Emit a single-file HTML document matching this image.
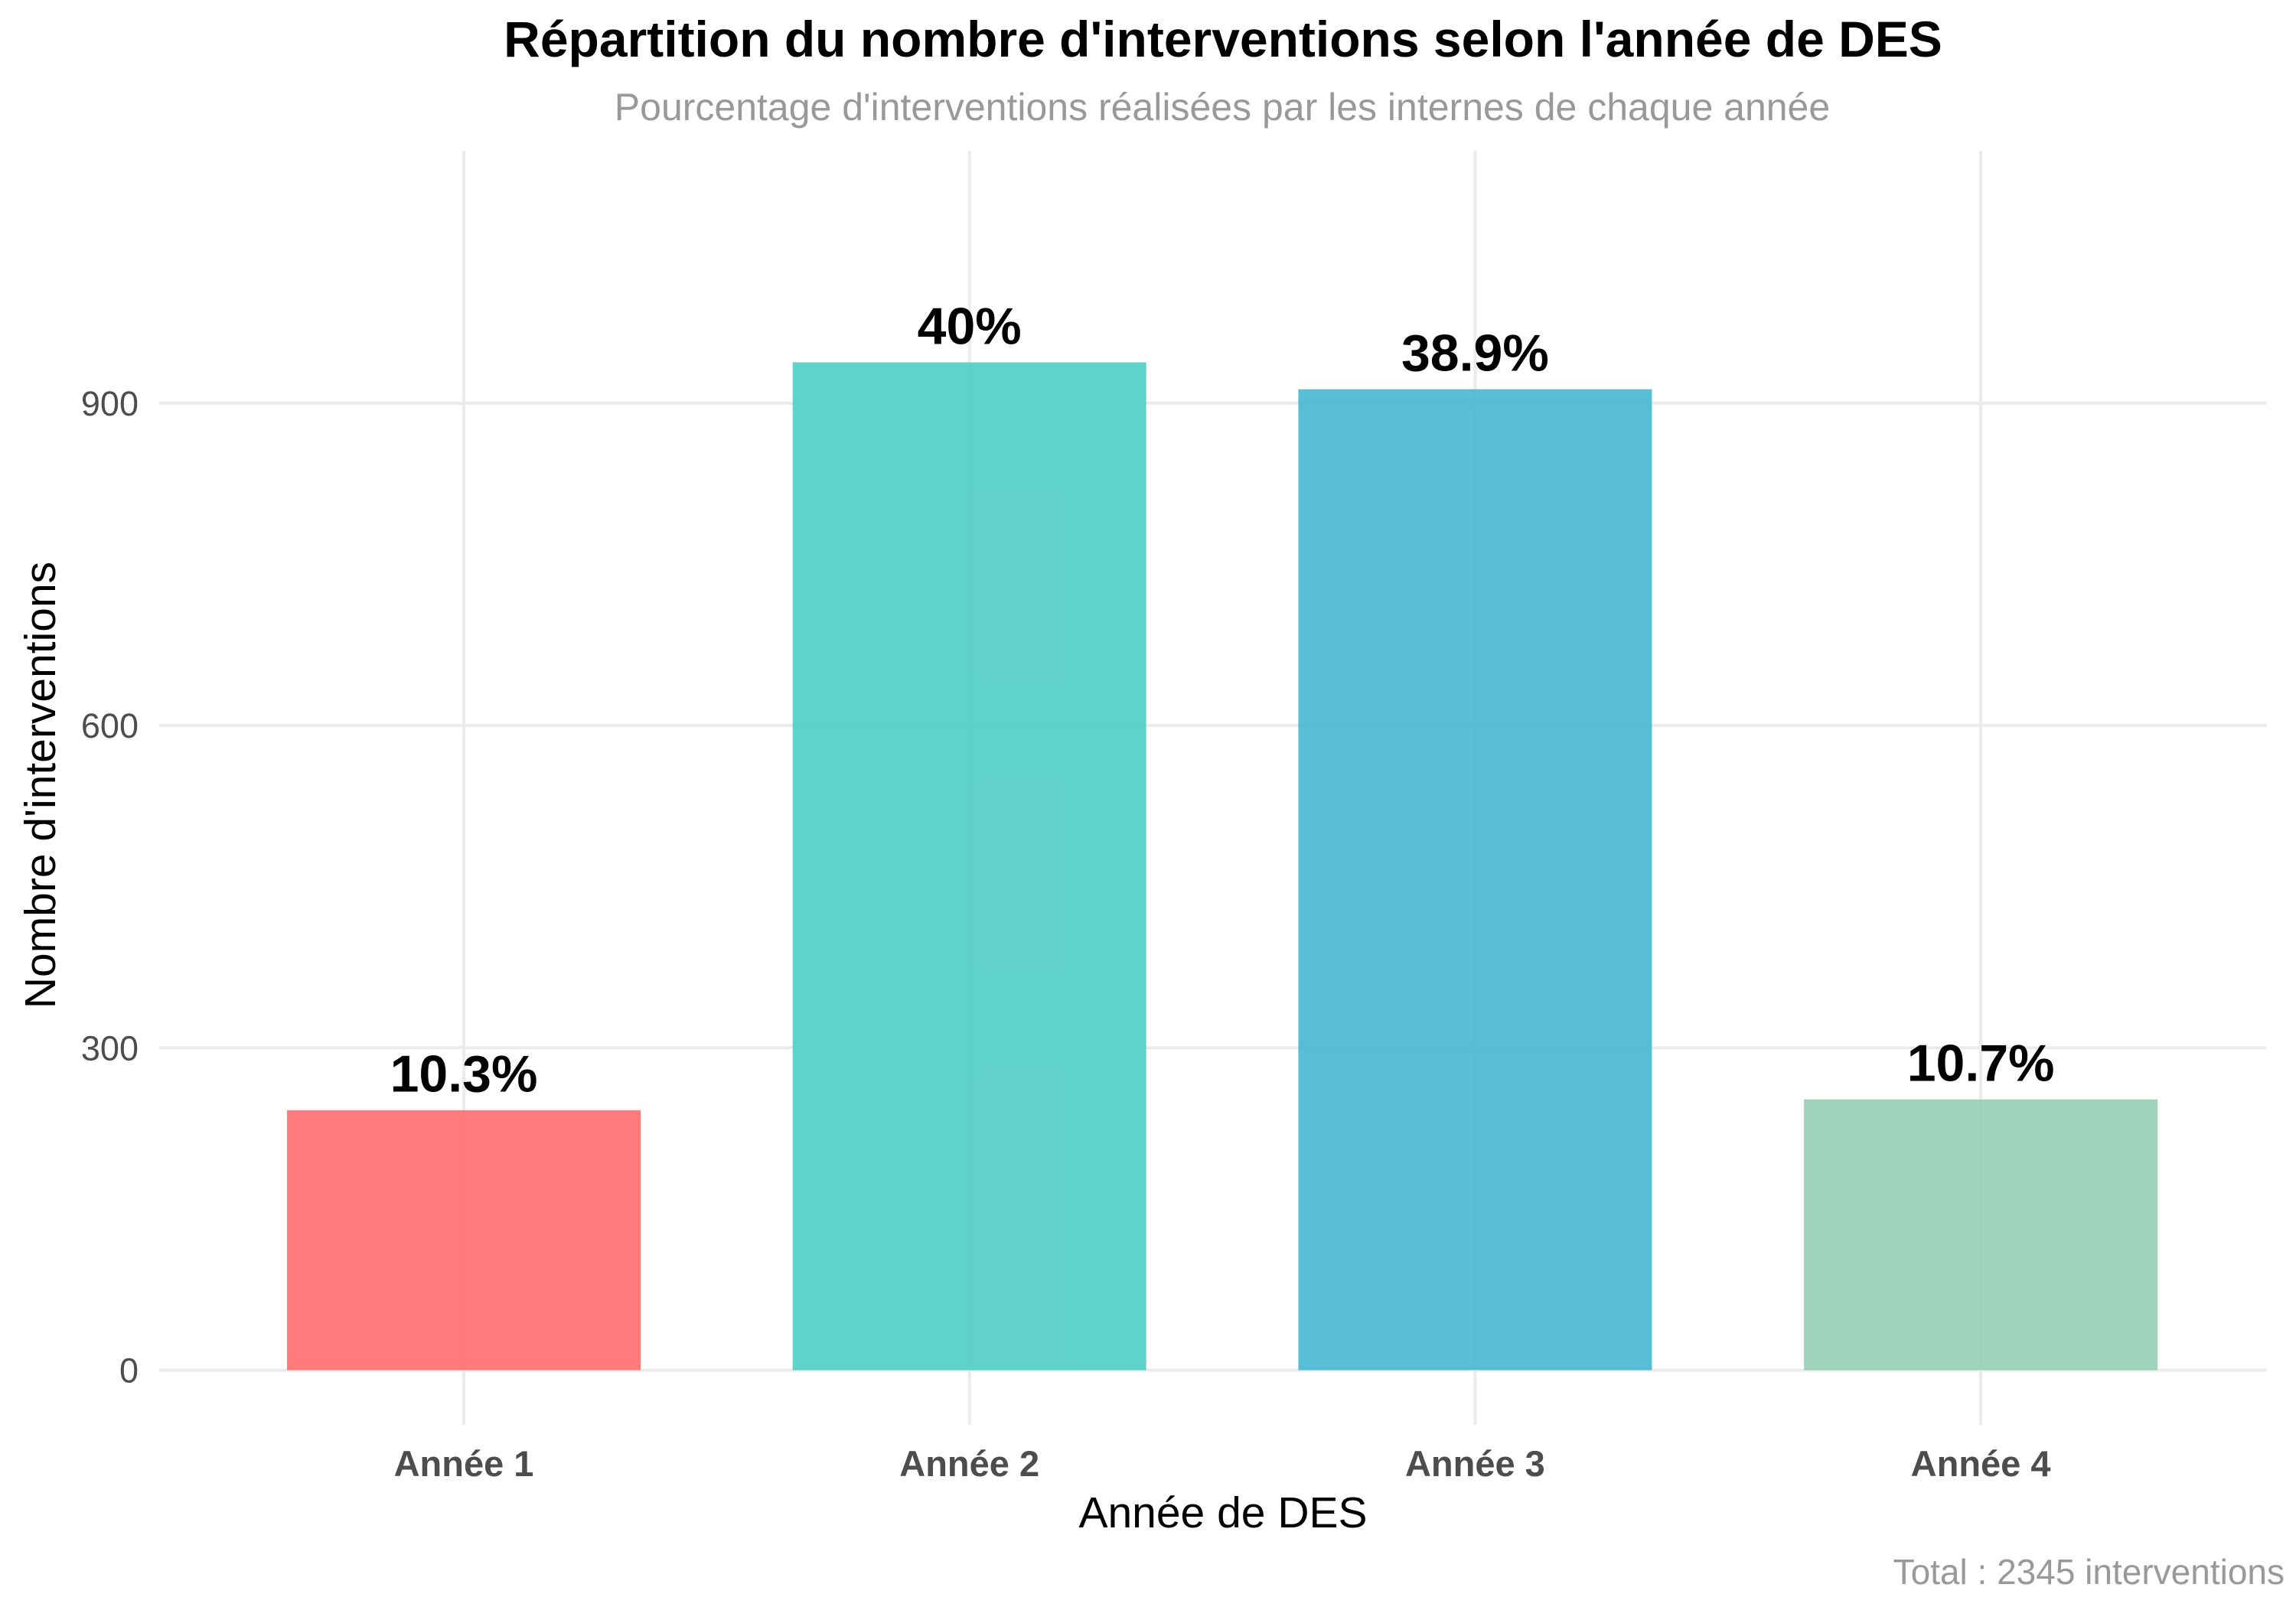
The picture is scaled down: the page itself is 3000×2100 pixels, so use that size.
<!DOCTYPE html>
<html><head><meta charset="utf-8"><style>
html,body{margin:0;padding:0;background:#fff;}
svg{display:block;font-family:"Liberation Sans",Arial,sans-serif;}
</style></head><body>
<svg id="chart" width="3000" height="2100" viewBox="0 0 3000 2100">
<text x="1598" y="74" text-anchor="middle" font-size="66" font-weight="bold" fill="#000">Répartition du nombre d'interventions selon l'année de DES</text>
<text x="1597" y="157" text-anchor="middle" font-size="50" fill="#999">Pourcentage d'interventions réalisées par les internes de chaque année</text>
<g id="grid"></g>
<g id="bars"></g>
<g id="labels"></g>
<text x="1598" y="1996" text-anchor="middle" font-size="57" fill="#000">Année de DES</text>
<text transform="translate(72,1026) rotate(-90)" text-anchor="middle" font-size="57" fill="#000">Nombre d'interventions</text>
<text x="2985" y="2070" text-anchor="end" font-size="46" fill="#999">Total : 2345 interventions</text>
</svg>
<script>
const categories = ["Année 1","Année 2","Année 3","Année 4"];
const counts = [242, 938, 913, 252];
const percentLabels = ["10.3%","40%","38.9%","10.7%"];
const colors = ["#FF6B6B","#4ECDC4","#45B7D1","#96CEB4"];
const yTicks = [0,300,600,900];

const NS="http://www.w3.org/2000/svg";
const x0=606, step=660.7, barW=462;
const yBase=1790.5, yScale=1.404;
const xPos=i=>x0+i*step;
const yPos=v=>yBase-v*yScale;
function mk(tag,attrs,parent){const e=document.createElementNS(NS,tag);for(const k in attrs)e.setAttribute(k,attrs[k]);parent.appendChild(e);return e;}
const grid=document.getElementById('grid'), bars=document.getElementById('bars'), labels=document.getElementById('labels');

yTicks.forEach(t=>{
  const l=mk('line',{x1:208,x2:2962,y1:yPos(t),y2:yPos(t),stroke:'#ebebeb','stroke-width':4},grid);
  
  
  const tx=mk('text',{x:181,y:yPos(t)+16,'text-anchor':'end','font-size':45,fill:'#4d4d4d'},grid);
  tx.textContent=t;
  
  
});
categories.forEach((c,i)=>{
  const l=mk('line',{x1:xPos(i),x2:xPos(i),y1:197,y2:1862,stroke:'#ebebeb','stroke-width':4},grid);
  
  
  const r=mk('rect',{x:xPos(i)-barW/2,y:yPos(counts[i]),width:barW,height:counts[i]*yScale,fill:colors[i],'fill-opacity':0.9},bars);
  
  
  const pl=mk('text',{x:xPos(i),y:yPos(counts[i])-24,'text-anchor':'middle','font-size':68,'font-weight':'bold',fill:'#000'},labels);
  pl.textContent=percentLabels[i];
  
  
  const xl=mk('text',{x:xPos(i),y:1929,'text-anchor':'middle','font-size':47,'font-weight':'bold',fill:'#4d4d4d'},labels);
  xl.textContent=c;
  
  
});
</script>
</body></html>
